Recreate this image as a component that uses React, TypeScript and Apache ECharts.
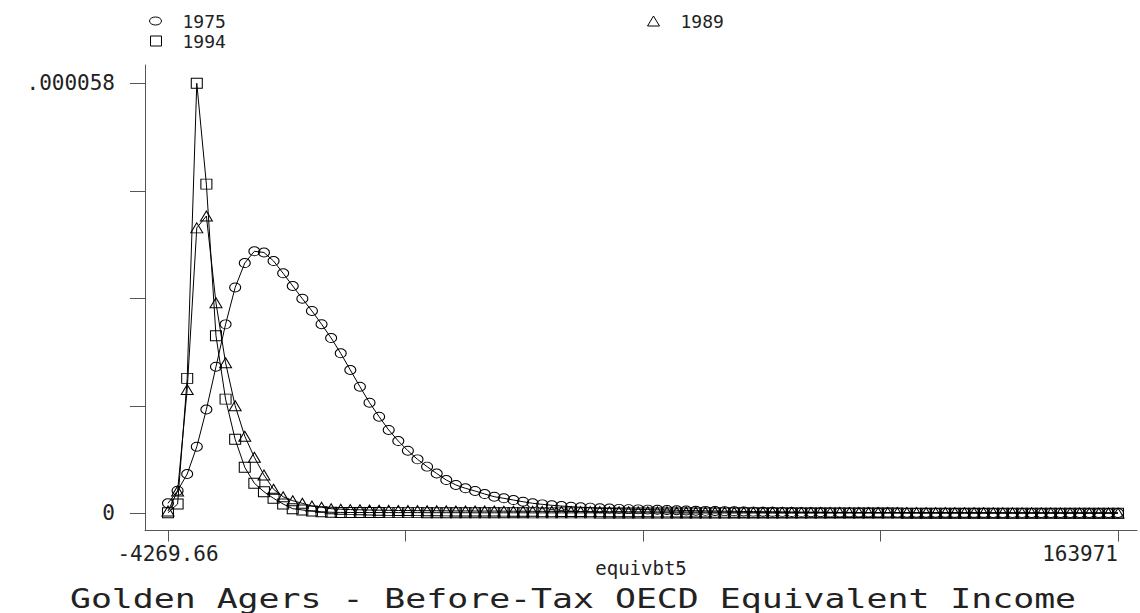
import React, { useEffect, useRef } from 'react';
import * as echarts from 'echarts';

// ---- data (density values in units of 1e-6) ----
const X_MIN = -4269.66;
const X_MAX = 163971;
const N_POINTS = 100;

const seriesNames = ['1975', '1989', '1994'];

const d1975 = [
  1.35, 3.05, 5.3, 8.98, 14.0, 19.77, 25.49, 30.46, 33.76, 35.34,
  35.18, 34.03, 32.37, 30.66, 28.95, 27.29, 25.51, 23.64, 21.58, 19.33,
  17.08, 14.92, 13.03, 11.24, 9.75, 8.44, 7.28, 6.29, 5.37, 4.49,
  3.82, 3.37, 3.01, 2.6, 2.24, 2.02, 1.79, 1.56, 1.35, 1.21,
  1.08, 0.98, 0.89, 0.81, 0.76, 0.68, 0.64, 0.6, 0.56, 0.53,
  0.5, 0.47, 0.44, 0.41, 0.38, 0.35, 0.33, 0.31, 0.29, 0.27,
  0.25, 0.23, 0.21, 0.2, 0.19, 0.17, 0.16, 0.15, 0.14, 0.13,
  0.12, 0.12, 0.11, 0.11, 0.1, 0.1, 0.09, 0.09, 0.09, 0.08,
  0.08, 0.08, 0.07, 0.07, 0.07, 0.07, 0.06, 0.06, 0.06, 0.06,
  0.05, 0.05, 0.05, 0.05, 0.05, 0.04, 0.04, 0.04, 0.04, 0.04,
];

const d1989 = [
  0.3, 3.0, 16.7, 38.5, 40.1, 28.4, 20.3, 14.5, 10.4, 7.55,
  5.17, 3.24, 2.24, 1.7, 1.35, 0.98, 0.81, 0.62, 0.55, 0.5,
  0.47, 0.44, 0.42, 0.4, 0.38, 0.37, 0.36, 0.35, 0.34, 0.33,
  0.32, 0.32, 0.31, 0.3, 0.3, 0.29, 0.28, 0.28, 0.27, 0.26,
  0.26, 0.25, 0.25, 0.24, 0.23, 0.23, 0.22, 0.22, 0.21, 0.2,
  0.2, 0.19, 0.19, 0.18, 0.18, 0.17, 0.17, 0.16, 0.16, 0.15,
  0.15, 0.14, 0.14, 0.14, 0.13, 0.13, 0.12, 0.12, 0.12, 0.11,
  0.11, 0.11, 0.1, 0.1, 0.1, 0.09, 0.09, 0.09, 0.09, 0.08,
  0.08, 0.08, 0.08, 0.07, 0.07, 0.07, 0.07, 0.07, 0.06, 0.06,
  0.06, 0.06, 0.06, 0.05, 0.05, 0.05, 0.05, 0.05, 0.05, 0.04,
];

const d1994 = [
  0.08, 1.25, 18.2, 58.0, 44.4, 23.95, 15.4, 9.98, 6.2, 4.05,
  2.91, 2.02, 1.25, 0.62, 0.45, 0.31, 0.2, 0.14, 0.12, 0.11,
  0.1, 0.1, 0.1, 0.09, 0.09, 0.09, 0.09, 0.08, 0.08, 0.08,
  0.08, 0.08, 0.07, 0.07, 0.07, 0.07, 0.07, 0.07, 0.06, 0.06,
  0.06, 0.06, 0.06, 0.06, 0.06, 0.05, 0.05, 0.05, 0.05, 0.05,
  0.05, 0.05, 0.05, 0.04, 0.04, 0.04, 0.04, 0.04, 0.04, 0.04,
  0.04, 0.04, 0.04, 0.03, 0.03, 0.03, 0.03, 0.03, 0.03, 0.03,
  0.03, 0.03, 0.03, 0.03, 0.03, 0.03, 0.03, 0.02, 0.02, 0.02,
  0.02, 0.02, 0.02, 0.02, 0.02, 0.02, 0.02, 0.02, 0.02, 0.02,
  0.02, 0.02, 0.02, 0.02, 0.02, 0.02, 0.02, 0.02, 0.02, 0.02,
];

const xTickValues = [-4269.66, 37790.505, 79850.67, 121910.835, 163971];
const xLabelValues = [-4269.66, 163971];
const xTickLabels = ['-4269.66', '163971'];

const yTickValues = [0, 0.0000145, 0.000029, 0.0000435, 0.000058];
const yLabelValues = [0, 0.000058];
const yTickLabels = ['0', '.000058'];

const xTitle = 'equivbt5';
const chartTitle = 'Golden Agers - Before-Tax OECD Equivalent Income';

// ---- chart ----
const FONT = '"DejaVu Sans Mono", "Liberation Mono", monospace';
const INK = '#222';
const AXIS = '#555';
const ELLIPSE = 'path://M0,4.5A5.5,4.5 0 1,1 11,4.5A5.5,4.5 0 1,1 0,4.5Z';
const ELLIPSE_ICON = 'path://M0,4A6,4 0 1,1 12,4A6,4 0 1,1 0,4Z';

function gridX(): number[] {
  const step = (X_MAX - X_MIN) / (N_POINTS - 1);
  const xs: number[] = [];
  for (let i = 0; i < N_POINTS; i++) xs.push(i === N_POINTS - 1 ? X_MAX : X_MIN + i * step);
  return xs;
}

function pickLabel(v: number, values: number[], labels: string[]): string {
  let best = 0;
  let bd = Infinity;
  values.forEach((lv, i) => {
    const d = Math.abs(lv - v);
    if (d < bd) { bd = d; best = i; }
  });
  return labels[best];
}

export default function App() {
  const ref = useRef<HTMLDivElement | null>(null);

  useEffect(() => {
    if (!ref.current) return;
    const chart = echarts.init(ref.current, undefined, { renderer: 'svg' });
    const xs = gridX();
    const mk = (vals: number[]) => xs.map((x, i) => [x, vals[i] * 1e-6]);

    const hollow = { color: 'rgba(0,0,0,0)', borderColor: '#000', borderWidth: 1 };
    const baseSeries = {
      type: 'line' as const,
      showSymbol: true,
      showAllSymbol: true,
      symbolKeepAspect: false,
      lineStyle: { color: '#000', width: 1 },
      itemStyle: hollow,
      emphasis: { disabled: true },
      clip: false,
    };

    const legendText = { fontFamily: FONT, fontSize: 18, color: INK, lineHeight: 18, padding: [0, 0, 0, 16] };

    chart.setOption({
      animation: false,
      backgroundColor: '#fff',
      grid: {
        left: 145,
        top: 65,
        right: 3,
        bottom: 82.5,
        containLabel: false,
        outerBoundsMode: 'none',
      },
      legend: [
        {
          data: [{ name: '1975', icon: ELLIPSE_ICON, itemStyle: hollow }],
          left: 149, top: 12, padding: 0, itemWidth: 12, itemHeight: 8,
          selectedMode: false, textStyle: legendText,
        },
        {
          data: [{ name: '1994', icon: 'rect', itemStyle: hollow }],
          left: 150, top: 32, padding: 0, itemWidth: 11, itemHeight: 10,
          selectedMode: false, textStyle: legendText,
        },
        {
          data: [{ name: '1989', icon: 'triangle', itemStyle: hollow }],
          left: 647, top: 12, padding: 0, itemWidth: 12, itemHeight: 10,
          selectedMode: false, textStyle: legendText,
        },
      ],
      xAxis: {
        type: 'value',
        min: -8342.8,
        max: 167335.8,
        name: xTitle,
        nameLocation: 'middle',
        nameGap: 28,
        nameMoveOverlap: false,
        nameTextStyle: { fontFamily: FONT, fontSize: 19, color: INK },
        axisLine: { onZero: false, lineStyle: { color: AXIS, width: 1 } },
        axisTick: { show: true, inside: false, length: 11, customValues: xTickValues, lineStyle: { color: AXIS } },
        axisLabel: {
          customValues: xLabelValues,
          margin: 13,
          fontFamily: FONT,
          fontSize: 21,
          color: INK,
          alignMaxLabel: 'right',
          formatter: (v: number) => pickLabel(v, xLabelValues, xTickLabels),
        },
        splitLine: { show: false },
      },
      yAxis: {
        type: 'value',
        min: -0.00000232,
        max: 0.00006047,
        axisLine: { show: true, onZero: false, lineStyle: { color: AXIS, width: 1 } },
        axisTick: { show: true, inside: false, length: 15, customValues: yTickValues, lineStyle: { color: AXIS } },
        axisLabel: {
          customValues: yLabelValues,
          margin: 30,
          fontFamily: FONT,
          fontSize: 21,
          color: INK,
          formatter: (v: number) => pickLabel(v, yLabelValues, yTickLabels),
        },
        splitLine: { show: false },
      },
      series: [
        { ...baseSeries, name: seriesNames[0], data: mk(d1975), symbol: ELLIPSE, symbolSize: [11, 9] },
        { ...baseSeries, name: seriesNames[1], data: mk(d1989), symbol: 'triangle', symbolSize: [12, 10] },
        { ...baseSeries, name: seriesNames[2], data: mk(d1994), symbol: 'rect', symbolSize: [11, 10] },
      ],
      graphic: [
        {
          type: 'text',
          x: 573,
          y: 599,
          scaleX: 1.34,
          style: {
            text: chartTitle,
            fontFamily: FONT,
            fontSize: 26,
            fill: INK,
            align: 'center',
            verticalAlign: 'middle',
          },
        },
      ],
    });

    return () => chart.dispose();
  }, []);

  return (
    <div
      ref={ref}
      style={{ position: 'fixed', left: 0, top: 0, width: 1140, height: 613, background: '#fff' }}
    />
  );
}
